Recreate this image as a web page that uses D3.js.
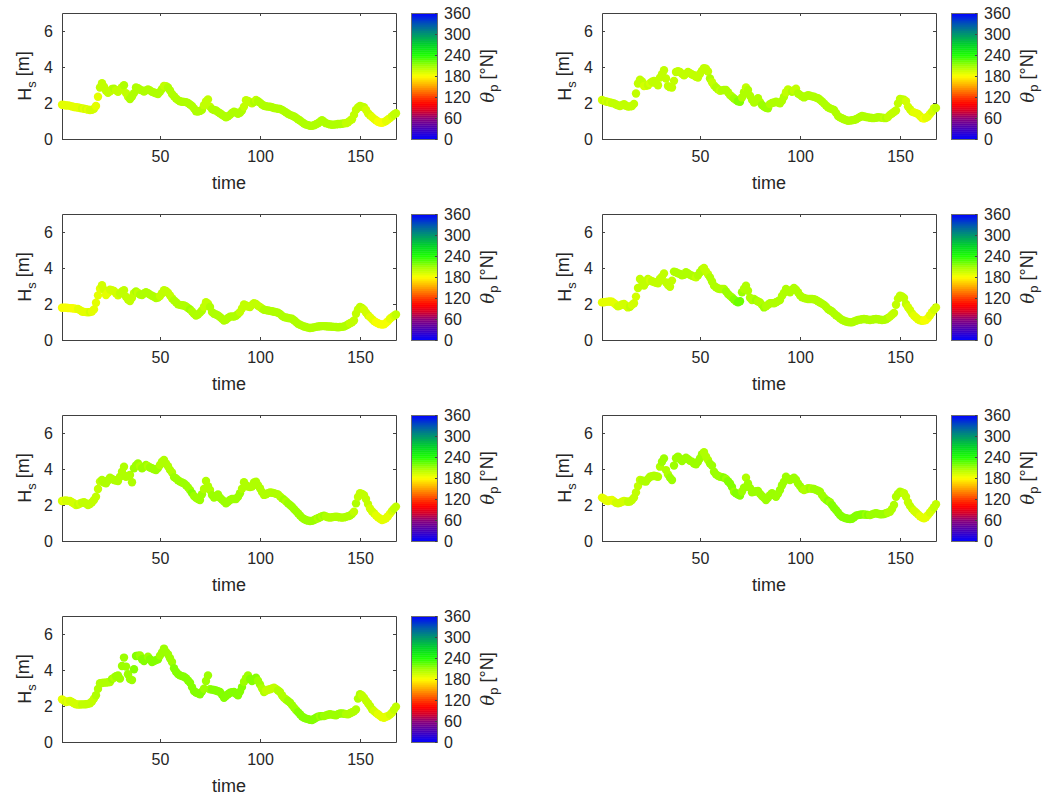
<!DOCTYPE html>
<html>
<head>
<meta charset="utf-8">
<script src="https://cdn.jsdelivr.net/npm/d3@7"></script>
<style>
  body { margin: 0; background: #ffffff; }
  svg { display: block; }
  text { font-family: Arial, "Liberation Sans", Helvetica, sans-serif; fill: #262626; }
</style>
</head>
<body>
<svg id="chart" width="1045" height="796"></svg>
<script>
// Hourly time index for one week
const hours = d3.range(1, 169);

// Significant wave height H_s [m], one series per station
const hs1 = [
  1.90, 1.89, 1.86, 1.87, 1.84, 1.81, 1.78, 1.76, 1.75, 1.72,
  1.70, 1.68, 1.66, 1.63, 1.61, 1.62, 1.68, 1.83, 2.35, 2.86,
  3.10, 2.90, 2.68, 2.57, 2.65, 2.78, 2.80, 2.70, 2.62, 2.75,
  2.88, 2.99, 2.55, 2.35, 2.22, 2.36, 2.55, 2.86, 2.82, 2.74,
  2.70, 2.64, 2.70, 2.75, 2.70, 2.62, 2.58, 2.54, 2.50, 2.62,
  2.78, 2.95, 2.94, 2.86, 2.70, 2.50, 2.38, 2.25, 2.16, 2.10,
  2.07, 2.06, 2.05, 2.00, 1.92, 1.83, 1.70, 1.54, 1.52, 1.56,
  1.62, 1.88, 2.08, 2.20, 1.80, 1.66, 1.61, 1.58, 1.50, 1.43,
  1.35, 1.28, 1.21, 1.26, 1.34, 1.45, 1.52, 1.47, 1.40, 1.45,
  1.58, 1.80, 2.15, 2.12, 2.05, 1.98, 2.05, 2.17, 2.10, 2.02,
  1.92, 1.85, 1.82, 1.80, 1.79, 1.76, 1.72, 1.70, 1.68, 1.67,
  1.62, 1.55, 1.48, 1.40, 1.34, 1.30, 1.25, 1.18, 1.10, 1.03,
  0.94, 0.86, 0.80, 0.77, 0.74, 0.73, 0.76, 0.82, 0.88, 0.96,
  1.04, 0.96, 0.88, 0.84, 0.81, 0.79, 0.80, 0.81, 0.83, 0.83,
  0.85, 0.87, 0.88, 0.93, 1.02, 1.10, 1.34, 1.62, 1.75, 1.83,
  1.80, 1.76, 1.62, 1.43, 1.32, 1.22, 1.12, 1.04, 0.96, 0.92,
  0.90, 0.94, 1.00, 1.08, 1.16, 1.26, 1.36, 1.43
];
const hs2 = [
  2.17, 2.12, 2.08, 2.06, 2.03, 2.00, 1.98, 1.92, 1.87, 1.83,
  1.88, 1.94, 1.85, 1.80, 1.81, 1.83, 1.95, 2.53, 3.08, 3.30,
  3.20, 2.94, 2.96, 2.99, 3.10, 3.18, 3.23, 3.10, 2.99, 3.41,
  3.60, 3.82, 3.36, 2.94, 2.88, 2.86, 3.23, 3.72, 3.76, 3.72,
  3.62, 3.54, 3.62, 3.72, 3.66, 3.58, 3.54, 3.45, 3.41, 3.63,
  3.80, 3.94, 3.90, 3.75, 3.36, 3.15, 2.98, 2.86, 2.76, 2.68,
  2.70, 2.72, 2.72, 2.60, 2.44, 2.35, 2.25, 2.17, 2.10, 2.07,
  2.31, 2.60, 2.86, 2.72, 2.40, 2.18, 2.02, 2.12, 2.26, 2.05,
  1.89, 1.80, 1.74, 1.71, 1.94, 2.00, 2.03, 2.07, 2.02, 1.98,
  2.12, 2.35, 2.60, 2.75, 2.68, 2.62, 2.70, 2.80, 2.53, 2.45,
  2.38, 2.31, 2.38, 2.44, 2.40, 2.37, 2.35, 2.30, 2.26, 2.18,
  2.08, 1.98, 1.86, 1.76, 1.70, 1.66, 1.61, 1.45, 1.28, 1.20,
  1.15, 1.10, 1.05, 1.01, 1.02, 1.04, 1.06, 1.10, 1.16, 1.22,
  1.28, 1.25, 1.22, 1.20, 1.18, 1.17, 1.16, 1.18, 1.21, 1.20,
  1.18, 1.17, 1.16, 1.22, 1.34, 1.42, 1.50, 1.58, 1.98, 2.22,
  2.20, 2.18, 2.10, 1.80, 1.65, 1.52, 1.48, 1.44, 1.39, 1.28,
  1.16, 1.14, 1.18, 1.25, 1.39, 1.52, 1.71, 1.72
];
const hs3 = [
  1.79, 1.80, 1.79, 1.78, 1.77, 1.76, 1.75, 1.73, 1.72, 1.66,
  1.58, 1.56, 1.55, 1.54, 1.55, 1.58, 1.70, 2.07, 2.48, 2.85,
  3.04, 2.80, 2.50, 2.62, 2.80, 2.76, 2.72, 2.60, 2.48, 2.58,
  2.70, 2.76, 2.40, 2.25, 2.16, 2.35, 2.60, 2.70, 2.62, 2.52,
  2.50, 2.58, 2.65, 2.60, 2.52, 2.46, 2.40, 2.33, 2.36, 2.44,
  2.60, 2.76, 2.72, 2.63, 2.48, 2.32, 2.20, 2.10, 1.98, 1.95,
  1.93, 1.92, 1.86, 1.78, 1.70, 1.58, 1.45, 1.36, 1.42, 1.52,
  1.64, 1.85, 2.10, 2.02, 1.83, 1.55, 1.46, 1.42, 1.36, 1.28,
  1.18, 1.08, 1.12, 1.22, 1.30, 1.31, 1.30, 1.35, 1.44, 1.55,
  1.75, 1.98, 1.92, 1.86, 1.83, 1.95, 2.05, 2.00, 1.90, 1.83,
  1.75, 1.68, 1.66, 1.64, 1.62, 1.60, 1.57, 1.55, 1.51, 1.45,
  1.35, 1.27, 1.25, 1.22, 1.20, 1.18, 1.10, 1.00, 0.90, 0.85,
  0.80, 0.75, 0.72, 0.69, 0.67, 0.68, 0.70, 0.73, 0.75, 0.76,
  0.77, 0.77, 0.76, 0.75, 0.75, 0.74, 0.73, 0.72, 0.71, 0.72,
  0.73, 0.75, 0.80, 0.86, 0.93, 0.99, 1.08, 1.46, 1.70, 1.83,
  1.78, 1.68, 1.52, 1.38, 1.27, 1.16, 1.06, 0.99, 0.93, 0.88,
  0.86, 0.87, 0.95, 1.05, 1.18, 1.27, 1.35, 1.42
];
const hs4 = [
  2.09, 2.10, 2.12, 2.13, 2.14, 2.13, 2.05, 1.95, 1.87, 1.92,
  1.98, 2.00, 1.90, 1.81, 1.85, 1.95, 2.04, 2.41, 2.89, 3.39,
  3.25, 3.02, 3.20, 3.39, 3.32, 3.26, 3.22, 3.18, 3.15, 3.40,
  3.52, 3.70, 3.20, 3.05, 2.96, 3.30, 3.80, 3.76, 3.70, 3.67,
  3.60, 3.62, 3.76, 3.70, 3.62, 3.57, 3.52, 3.48, 3.60, 3.76,
  3.92, 4.00, 3.81, 3.65, 3.48, 3.25, 3.02, 2.93, 2.86, 2.83,
  2.83, 2.83, 2.70, 2.56, 2.45, 2.36, 2.25, 2.15, 2.09, 2.15,
  2.65, 2.85, 3.02, 2.74, 2.35, 2.22, 2.28, 2.20, 2.14, 2.09,
  1.95, 1.81, 1.88, 1.96, 2.04, 2.05, 2.04, 2.10, 2.16, 2.22,
  2.45, 2.62, 2.83, 2.75, 2.65, 2.78, 2.89, 2.80, 2.65, 2.48,
  2.38, 2.33, 2.30, 2.28, 2.28, 2.28, 2.26, 2.22, 2.15, 2.08,
  2.02, 1.95, 1.85, 1.72, 1.65, 1.58, 1.48, 1.38, 1.30, 1.20,
  1.12, 1.07, 1.03, 1.00, 0.98, 0.99, 1.03, 1.07, 1.11, 1.13,
  1.15, 1.17, 1.15, 1.13, 1.11, 1.13, 1.15, 1.17, 1.15, 1.13,
  1.11, 1.12, 1.15, 1.22, 1.30, 1.40, 1.50, 1.96, 2.30, 2.46,
  2.42, 2.33, 2.00, 1.82, 1.67, 1.48, 1.35, 1.25, 1.15, 1.10,
  1.07, 1.08, 1.11, 1.22, 1.38, 1.54, 1.68, 1.81
];
const hs5 = [
  2.22, 2.24, 2.25, 2.23, 2.22, 2.15, 2.08, 2.00, 2.02, 2.08,
  2.13, 2.15, 2.08, 2.00, 2.05, 2.15, 2.28, 2.46, 2.89, 3.30,
  3.39, 3.25, 3.20, 3.38, 3.52, 3.45, 3.39, 3.36, 3.33, 3.57,
  3.85, 4.13, 3.57, 3.62, 3.67, 3.26, 4.04, 4.20, 4.31, 4.15,
  4.04, 4.12, 4.22, 4.15, 4.08, 4.04, 3.98, 3.94, 4.05, 4.22,
  4.40, 4.50, 4.31, 4.15, 3.95, 3.81, 3.55, 3.48, 3.38, 3.30,
  3.25, 3.20, 3.10, 2.98, 2.83, 2.66, 2.50, 2.40, 2.33, 2.28,
  2.60, 2.89, 3.33, 3.05, 2.83, 2.55, 2.41, 2.48, 2.59, 2.40,
  2.30, 2.20, 2.09, 2.18, 2.28, 2.33, 2.33, 2.33, 2.45, 2.65,
  2.90, 3.26, 3.10, 3.02, 3.00, 3.02, 3.25, 3.30, 3.10, 2.93,
  2.72, 2.56, 2.60, 2.66, 2.70, 2.68, 2.66, 2.62, 2.59, 2.48,
  2.38, 2.30, 2.20, 2.09, 2.00, 1.90, 1.78, 1.66, 1.54, 1.42,
  1.30, 1.22, 1.17, 1.13, 1.11, 1.12, 1.16, 1.22, 1.26, 1.32,
  1.38, 1.41, 1.36, 1.32, 1.30, 1.32, 1.34, 1.35, 1.33, 1.31,
  1.30, 1.31, 1.34, 1.38, 1.41, 1.50, 1.63, 2.09, 2.45, 2.65,
  2.62, 2.55, 2.33, 2.05, 1.81, 1.65, 1.54, 1.42, 1.32, 1.24,
  1.17, 1.20, 1.26, 1.38, 1.52, 1.67, 1.80, 1.91
];
const hs6 = [
  2.41, 2.35, 2.25, 2.22, 2.26, 2.28, 2.20, 2.12, 2.09, 2.12,
  2.18, 2.22, 2.20, 2.18, 2.19, 2.28, 2.41, 2.70, 3.05, 3.39,
  3.36, 3.32, 3.30, 3.45, 3.57, 3.60, 3.63, 3.60, 3.57, 4.13,
  4.40, 4.59, 3.94, 3.70, 3.52, 3.39, 4.19, 4.60, 4.69, 4.55,
  4.44, 4.55, 4.63, 4.55, 4.45, 4.41, 4.30, 4.26, 4.40, 4.59,
  4.82, 4.93, 4.69, 4.50, 4.30, 4.19, 3.85, 3.70, 3.62, 3.57,
  3.55, 3.52, 3.45, 3.32, 3.20, 3.00, 2.74, 2.65, 2.58, 2.52,
  2.75, 2.96, 3.52, 3.20, 2.95, 2.70, 2.74, 2.76, 2.78, 2.62,
  2.50, 2.40, 2.28, 2.40, 2.55, 2.65, 2.55, 2.46, 2.62, 2.83,
  3.10, 3.30, 3.57, 3.45, 3.39, 3.45, 3.52, 3.40, 3.20, 3.05,
  2.90, 2.83, 2.88, 2.93, 2.92, 2.90, 2.89, 2.84, 2.79, 2.74,
  2.55, 2.40, 2.30, 2.22, 2.15, 2.00, 1.85, 1.72, 1.58, 1.44,
  1.35, 1.30, 1.26, 1.24, 1.22, 1.24, 1.32, 1.41, 1.44, 1.46,
  1.48, 1.47, 1.46, 1.45, 1.44, 1.48, 1.52, 1.54, 1.51, 1.49,
  1.48, 1.50, 1.54, 1.58, 1.63, 1.78, 2.00, 2.46, 2.62, 2.74,
  2.70, 2.65, 2.46, 2.15, 1.95, 1.80, 1.68, 1.58, 1.48, 1.38,
  1.30, 1.26, 1.32, 1.44, 1.58, 1.72, 1.88, 2.04
];
const hs7 = [
  2.37, 2.30, 2.22, 2.25, 2.28, 2.22, 2.15, 2.09, 2.08, 2.08,
  2.09, 2.09, 2.10, 2.12, 2.15, 2.25, 2.41, 2.60, 2.95, 3.26,
  3.28, 3.30, 3.30, 3.32, 3.33, 3.50, 3.57, 3.65, 3.70, 3.52,
  4.22, 4.69, 4.19, 3.76, 3.50, 3.44, 4.04, 4.78, 4.80, 4.81,
  4.60, 4.50, 4.62, 4.74, 4.60, 4.44, 4.50, 4.55, 4.59, 4.80,
  4.98, 5.19, 5.00, 4.87, 4.65, 4.44, 4.10, 3.90, 3.78, 3.70,
  3.66, 3.63, 3.55, 3.42, 3.30, 3.05, 2.83, 2.75, 2.70, 2.65,
  2.80, 2.96, 3.39, 3.70, 2.93, 2.91, 2.89, 2.86, 2.82, 2.78,
  2.62, 2.46, 2.55, 2.65, 2.74, 2.76, 2.78, 2.68, 2.59, 2.80,
  3.05, 3.35, 3.55, 3.70, 3.50, 3.39, 3.48, 3.57, 3.40, 3.20,
  2.98, 2.78, 2.85, 2.90, 2.93, 2.98, 3.02, 2.95, 2.86, 2.78,
  2.60, 2.45, 2.36, 2.28, 2.19, 2.05, 1.91, 1.78, 1.66, 1.54,
  1.42, 1.35, 1.30, 1.27, 1.24, 1.22, 1.28, 1.35, 1.41, 1.43,
  1.44, 1.44, 1.48, 1.51, 1.54, 1.52, 1.50, 1.48, 1.55, 1.58,
  1.59, 1.57, 1.55, 1.54, 1.60, 1.65, 1.70, 1.81, 2.41, 2.65,
  2.58, 2.46, 2.30, 2.15, 2.00, 1.82, 1.72, 1.62, 1.54, 1.45,
  1.38, 1.35, 1.40, 1.44, 1.52, 1.63, 1.80, 1.96
];

// Peak wave direction theta_p [deg N], one series per station
const dir1 = [
  188, 186, 187, 189, 186, 188, 190, 187, 189, 191,
  192, 190, 193, 191, 194, 192, 195, 190, 186, 198,
  200, 201, 199, 202, 200, 201, 203, 200, 202, 199,
  201, 203, 200, 202, 204, 203, 205, 206, 207, 205,
  206, 204, 205, 207, 206, 205, 207, 206, 205, 204,
  203, 202, 201, 203, 204, 205, 203, 204, 205, 204,
  205, 206, 204, 205, 206, 207, 205, 206, 205, 204,
  203, 201, 199, 198, 202, 204, 205, 206, 205, 206,
  207, 206, 205, 204, 205, 206, 204, 205, 206, 205,
  203, 201, 198, 200, 202, 201, 203, 202, 204, 203,
  204, 205, 204, 205, 206, 205, 204, 205, 204, 203,
  204, 205, 206, 205, 204, 205, 206, 207, 206, 205,
  206, 207, 206, 205, 206, 205, 204, 205, 204, 203,
  204, 205, 206, 205, 206, 205, 204, 205, 206, 205,
  204, 203, 202, 201, 200, 199, 200, 201, 202, 201,
  199, 197, 195, 193, 192, 190, 188, 186, 185, 184,
  184, 185, 186, 188, 191, 194, 197, 199
];
const dir2 = [
  196, 197, 195, 198, 196, 197, 199, 198, 200, 199,
  198, 197, 199, 200, 202, 201, 200, 198, 197, 199,
  198, 196, 195, 197, 196, 198, 197, 199, 198, 200,
  199, 201, 200, 198, 197, 199, 200, 201, 202, 201,
  200, 202, 201, 200, 199, 201, 200, 202, 201, 200,
  199, 200, 201, 202, 203, 202, 201, 203, 204, 202,
  203, 204, 205, 206, 207, 208, 210, 212, 216, 214,
  208, 204, 202, 203, 205, 206, 205, 207, 206, 208,
  209, 210, 212, 210, 208, 206, 205, 204, 205, 206,
  204, 203, 202, 201, 202, 203, 202, 201, 203, 204,
  203, 204, 205, 204, 203, 204, 205, 206, 205, 204,
  205, 206, 205, 204, 205, 206, 207, 206, 205, 206,
  205, 204, 205, 206, 205, 204, 205, 206, 205, 204,
  205, 204, 203, 204, 205, 204, 203, 204, 205, 204,
  203, 202, 203, 202, 201, 200, 199, 201, 200, 199,
  198, 197, 196, 195, 193, 192, 190, 189, 188, 187,
  186, 185, 186, 188, 190, 193, 196, 198
];
const dir3 = [
  183, 182, 184, 183, 185, 184, 183, 185, 186, 187,
  188, 189, 190, 191, 192, 190, 189, 188, 186, 190,
  192, 193, 191, 190, 192, 194, 193, 195, 196, 197,
  198, 199, 200, 201, 200, 202, 201, 203, 202, 204,
  203, 205, 204, 203, 205, 206, 204, 205, 203, 202,
  200, 199, 198, 200, 201, 202, 203, 204, 205, 204,
  205, 206, 207, 208, 209, 208, 207, 206, 207, 208,
  206, 202, 199, 201, 203, 205, 206, 207, 208, 207,
  206, 207, 205, 204, 205, 206, 205, 204, 203, 202,
  199, 198, 197, 199, 200, 201, 199, 198, 200, 201,
  202, 203, 204, 205, 204, 205, 206, 205, 204, 205,
  206, 207, 206, 205, 206, 207, 206, 205, 206, 207,
  206, 205, 206, 207, 206, 205, 206, 205, 204, 205,
  206, 205, 204, 205, 206, 205, 204, 205, 206, 205,
  204, 203, 204, 203, 202, 201, 199, 198, 199, 200,
  198, 196, 194, 192, 190, 188, 186, 184, 183, 182,
  181, 182, 183, 185, 188, 191, 194, 197
];
const dir4 = [
  190, 189, 188, 190, 189, 188, 190, 191, 192, 193,
  194, 193, 195, 196, 197, 195, 194, 196, 198, 199,
  200, 199, 198, 197, 196, 198, 199, 200, 199, 201,
  202, 201, 200, 199, 201, 202, 203, 204, 205, 204,
  205, 204, 203, 204, 205, 204, 203, 202, 203, 204,
  203, 202, 201, 202, 203, 204, 205, 206, 207, 208,
  207, 208, 209, 210, 211, 212, 214, 218, 222, 220,
  212, 206, 204, 205, 206, 207, 208, 209, 208, 207,
  208, 209, 208, 207, 206, 207, 206, 205, 206, 207,
  206, 205, 204, 203, 204, 205, 204, 203, 204, 205,
  206, 205, 206, 207, 206, 207, 208, 207, 206, 207,
  208, 207, 206, 207, 208, 207, 206, 207, 208, 207,
  206, 207, 208, 207, 206, 207, 206, 205, 206, 207,
  206, 205, 206, 207, 206, 205, 206, 207, 206, 205,
  204, 205, 204, 203, 202, 201, 200, 202, 201, 200,
  199, 198, 197, 196, 195, 193, 191, 190, 188, 187,
  186, 185, 184, 185, 187, 190, 193, 196
];
const dir5 = [
  192, 191, 193, 192, 194, 193, 195, 196, 197, 196,
  198, 199, 198, 200, 201, 202, 201, 200, 199, 202,
  203, 204, 205, 204, 203, 205, 206, 205, 204, 206,
  207, 208, 206, 205, 207, 208, 209, 210, 209, 208,
  209, 210, 209, 208, 209, 210, 211, 210, 209, 208,
  207, 206, 205, 206, 207, 208, 209, 210, 211, 210,
  211, 212, 211, 212, 213, 214, 213, 212, 213, 212,
  210, 208, 206, 207, 208, 209, 210, 211, 212, 211,
  212, 213, 212, 211, 210, 211, 212, 211, 210, 209,
  208, 207, 206, 207, 208, 207, 206, 205, 206, 207,
  206, 205, 204, 205, 206, 205, 206, 207, 208, 207,
  208, 209, 208, 209, 210, 209, 210, 211, 210, 209,
  210, 211, 210, 209, 210, 211, 210, 209, 208, 209,
  208, 209, 208, 207, 208, 207, 206, 207, 206, 205,
  206, 205, 204, 205, 204, 203, 202, 203, 202, 201,
  200, 199, 198, 197, 196, 195, 193, 191, 189, 188,
  187, 186, 187, 189, 191, 194, 197, 199
];
const dir6 = [
  190, 189, 188, 190, 191, 189, 190, 192, 193, 194,
  195, 196, 195, 197, 198, 199, 200, 199, 201, 202,
  203, 204, 203, 205, 204, 206, 205, 207, 206, 208,
  209, 210, 208, 207, 209, 210, 211, 212, 211, 210,
  211, 212, 211, 210, 211, 212, 213, 212, 211, 210,
  209, 208, 207, 208, 209, 210, 211, 212, 213, 212,
  213, 214, 213, 214, 215, 214, 213, 214, 215, 214,
  212, 210, 208, 209, 210, 211, 212, 213, 212, 211,
  212, 213, 212, 211, 212, 213, 212, 211, 212, 213,
  211, 210, 209, 210, 211, 212, 213, 212, 211, 210,
  209, 208, 207, 208, 209, 208, 209, 210, 211, 212,
  213, 212, 213, 214, 213, 214, 215, 214, 215, 216,
  215, 216, 217, 216, 215, 216, 217, 216, 215, 214,
  215, 214, 213, 214, 213, 212, 213, 212, 211, 212,
  211, 210, 209, 208, 207, 206, 205, 206, 205, 204,
  203, 202, 201, 200, 199, 198, 196, 194, 192, 190,
  189, 188, 189, 190, 192, 195, 198, 200
];
const dir7 = [
  191, 190, 192, 191, 193, 192, 194, 195, 196, 195,
  197, 198, 197, 199, 200, 201, 202, 203, 204, 205,
  206, 207, 206, 208, 207, 209, 208, 210, 209, 211,
  212, 213, 211, 210, 212, 213, 214, 215, 214, 213,
  214, 215, 214, 213, 214, 215, 216, 215, 214, 213,
  212, 211, 210, 211, 212, 213, 214, 215, 216, 215,
  216, 217, 216, 217, 218, 217, 216, 217, 218, 217,
  215, 213, 211, 212, 213, 214, 215, 216, 215, 214,
  215, 216, 215, 214, 215, 216, 215, 214, 215, 216,
  214, 213, 212, 213, 214, 215, 216, 215, 213, 210,
  206, 203, 201, 200, 199, 200, 201, 202, 203, 204,
  206, 207, 208, 209, 210, 211, 212, 213, 214, 215,
  216, 215, 216, 217, 216, 215, 216, 215, 214, 213,
  214, 213, 212, 213, 212, 211, 212, 211, 210, 211,
  210, 209, 208, 207, 206, 205, 204, 205, 204, 203,
  202, 201, 200, 199, 198, 197, 195, 193, 191, 189,
  188, 187, 188, 190, 192, 195, 198, 200
];

// Axis tick values
const xTicks = [50, 100, 150];
const yTicks = [0, 2, 4, 6];
const cbTicks = [0, 60, 120, 180, 240, 300, 360];

// Colour map stops (direction in degrees -> colour), 64 discrete levels
const cmapStops = [0, 30, 60, 80, 100, 120, 150, 180, 210, 240, 270, 300, 330, 360];
const cmapColors = ["#0000ff", "#4600b9", "#8c0078", "#d2002d", "#ff0000", "#ff3c00",
                    "#ffa000", "#ffff00", "#a0ff00", "#1eff00", "#00d228", "#00966e",
                    "#0055b4", "#0000ff"];
const nLevels = 64;

const series = [
  { hs: hs1, dir: dir1 }, { hs: hs2, dir: dir2 },
  { hs: hs3, dir: dir3 }, { hs: hs4, dir: dir4 },
  { hs: hs5, dir: dir5 }, { hs: hs6, dir: dir6 },
  { hs: hs7, dir: dir7 }
];

// ---- layout ----
const W = 334, H = 126;
const colX = [62, 602];
const rowY = [13, 214, 415, 616];
const cbOffset = 349, cbW = 26;
const tickFont = 16, labelFont = 18;
const axisColor = "#404040";

const svg = d3.select("#chart");

const x = d3.scaleLinear().domain([1, 168]).range([0, W]);
const y = d3.scaleLinear().domain([0, 7]).range([H, 0]);
const cb = d3.scaleLinear().domain([0, 360]).range([H, 0]);
const fmt = d3.format("d");

const cont = d3.scaleLinear().domain(cmapStops).range(cmapColors).interpolate(d3.interpolateRgb);
const levels = d3.range(nLevels).map(k => cont((k + 0.5) * 360 / nLevels));
const colorOf = v => levels[Math.max(0, Math.min(nLevels - 1, Math.floor(v / 360 * nLevels)))];

function styleAxis(sel) {
  sel.select(".domain").attr("stroke", axisColor);
  sel.selectAll(".tick line").attr("stroke", axisColor);
  sel.selectAll(".tick text").attr("fill", "#262626").attr("font-size", tickFont)
     .attr("font-family", 'Arial, "Liberation Sans", Helvetica, sans-serif');
}

series.forEach((s, i) => {
  const ox = colX[i % 2], oy = rowY[Math.floor(i / 2)];
  const g = svg.append("g").attr("transform", `translate(${ox},${oy})`);

  // frame with inward ticks on all four sides
  g.append("g").attr("transform", `translate(0,${H})`)
    .call(d3.axisBottom(x).tickValues(xTicks).tickFormat(fmt).tickSizeInner(-3).tickSizeOuter(0).tickPadding(12))
    .call(styleAxis);
  g.append("g")
    .call(d3.axisTop(x).tickValues(xTicks).tickSizeInner(-3).tickSizeOuter(0).tickFormat(""))
    .call(styleAxis);
  g.append("g")
    .call(d3.axisLeft(y).tickValues(yTicks).tickFormat(fmt).tickSizeInner(-3).tickSizeOuter(0).tickPadding(9))
    .call(styleAxis);
  g.append("g").attr("transform", `translate(${W},0)`)
    .call(d3.axisRight(y).tickValues(yTicks).tickSizeInner(-3).tickSizeOuter(0).tickFormat(""))
    .call(styleAxis);

  // scatter points coloured by peak direction
  g.append("g").selectAll("circle")
    .data(hours.map((t, k) => ({ t, h: s.hs[k], d: s.dir[k] })))
    .join("circle")
    .attr("cx", d => x(d.t))
    .attr("cy", d => y(d.h))
    .attr("r", 4.2)
    .attr("fill", d => colorOf(d.d));

  // axis titles
  g.append("text")
    .attr("x", W / 2).attr("y", H + 50)
    .attr("text-anchor", "middle").attr("font-size", labelFont)
    .text("time");
  const yl = g.append("text")
    .attr("transform", `translate(-31,${H / 2}) rotate(-90)`)
    .attr("text-anchor", "middle").attr("font-size", labelFont);
  yl.append("tspan").text("H");
  yl.append("tspan").attr("dy", "0.35em").attr("font-size", labelFont * 0.72).text("s");
  yl.append("tspan").attr("dy", "-0.35em").text(" [m]");

  // colour bar
  const cg = g.append("g").attr("transform", `translate(${cbOffset},0)`);
  const bandH = H / nLevels;
  cg.selectAll("rect.band")
    .data(levels)
    .join("rect")
    .attr("class", "band")
    .attr("x", 0).attr("width", cbW)
    .attr("y", (c, k) => cb((k + 1) * 360 / nLevels))
    .attr("height", bandH + 0.4)
    .attr("fill", c => c);
  cg.append("rect")
    .attr("x", 0.5).attr("y", 0.5).attr("width", cbW).attr("height", H)
    .attr("fill", "none").attr("stroke", "#6e6e6e");
  cg.append("g").attr("transform", `translate(${cbW},0)`)
    .call(d3.axisRight(cb).tickValues(cbTicks).tickFormat(fmt).tickSizeInner(-2).tickSizeOuter(0).tickPadding(7))
    .call(styleAxis)
    .call(a => a.select(".domain").remove());

  const cl = cg.append("text")
    .attr("transform", `translate(${cbW + 57},${H / 2}) rotate(-90)`)
    .attr("text-anchor", "middle").attr("font-size", labelFont);
  cl.append("tspan").attr("font-style", "italic").attr("font-family", '"DejaVu Serif", "Liberation Serif", serif').text("θ");
  cl.append("tspan").attr("dy", "0.28em").attr("font-size", labelFont * 0.72).text("p");
  cl.append("tspan").attr("dy", "-0.28em").text(" [°N]");
});
</script>
</body>
</html>
